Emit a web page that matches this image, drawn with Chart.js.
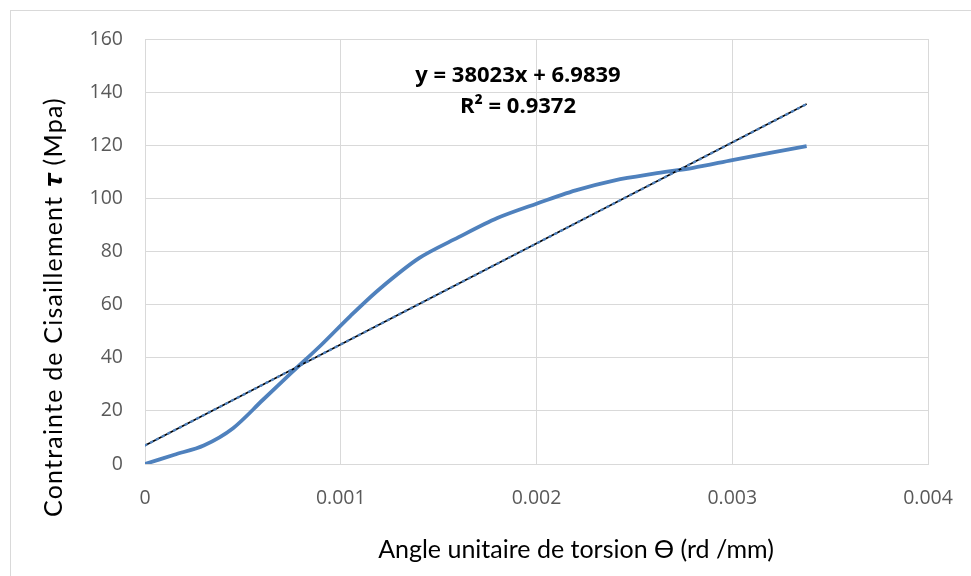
<!DOCTYPE html>
<html>
<head>
<meta charset="utf-8">
<script src="https://cdn.jsdelivr.net/npm/chart.js@4/dist/chart.umd.min.js"></script>
<style>
  html, body { margin: 0; padding: 0; background: #fff; overflow: hidden; }
  #wrap { width: 971px; height: 576px; }
</style>
</head>
<body>
<div id="wrap"><canvas id="torsion"></canvas></div>
<script>
// angle unitaire (rd/mm) vs contrainte de cisaillement (MPa)
const angles = [0, 0.00015, 0.0003, 0.00045, 0.0006, 0.00075, 0.0009, 0.00105, 0.0012, 0.0014,
  0.0016, 0.0018, 0.002, 0.0022, 0.0024, 0.0026, 0.0028, 0.003, 0.0032, 0.00338];
const contraintes = [0, 3.5, 7, 13.5, 24, 34.5, 44.8, 55.8, 66, 77.5,
  85.3, 92.6, 98, 103, 106.8, 109.3, 111.5, 114.4, 117.2, 119.7];

// linear trendline
const slope = 38023;
const intercept = 6.9839;
const r2 = 0.9372;
const trendX = [0, 0.00338];

const xTicks = [0, 0.001, 0.002, 0.003, 0.004];
const yTicks = [0, 20, 40, 60, 80, 100, 120, 140, 160];

const xTitle = 'Angle unitaire de torsion ϴ (rd /mm)';
const yTitle = 'Contrainte de Cisaillement 𝝉 (Mpa)';

const FONT = '"Open Sans", Lato, sans-serif';
const TITLE_FONT = 'Lato, "Open Sans", sans-serif';

const curve = angles.map((a, i) => ({ x: a, y: contraintes[i] }));
const trend = trendX.map((a) => ({ x: a, y: slope * a + intercept }));

const frame = {
  id: 'frame',
  beforeDraw(chart) {
    const ctx = chart.ctx;
    ctx.save();
    ctx.strokeStyle = '#d9d9d9';
    ctx.lineWidth = 1;
    ctx.strokeRect(10.5, 10.5, 1100, 1100);
    ctx.restore();
  },
  afterDraw(chart) {
    const ctx = chart.ctx;
    ctx.save();
    ctx.fillStyle = '#000';
    ctx.textAlign = 'center';
    ctx.textBaseline = 'middle';

    // equation of the trendline
    ctx.font = 'bold 22px ' + FONT;
    ctx.fillText('y = ' + slope + 'x + ' + intercept, 518, 76);
    ctx.fillText('R² = ' + r2, 518, 107);

    // axis titles
    ctx.font = '25px ' + TITLE_FONT;
    ctx.fillText(xTitle, 576, 550);
    ctx.letterSpacing = '1.2px';
    ctx.translate(54, 307);
    ctx.rotate(-Math.PI / 2);
    ctx.fillText(yTitle, 0, 0);
    ctx.restore();
  }
};

new Chart(document.getElementById('torsion'), {
  type: 'scatter',
  data: {
    datasets: [
      {
        data: trend,
        showLine: true,
        borderColor: '#000',
        borderWidth: 1.6,
        pointRadius: 0,
        order: 1
      },
      {
        data: trend,
        showLine: true,
        borderColor: '#4f81bd',
        borderWidth: 2.4,
        borderDash: [1.5, 5],
        borderCapStyle: 'round',
        pointRadius: 0,
        order: 0
      },
      {
        data: curve,
        showLine: true,
        borderColor: '#4f81bd',
        borderWidth: 3.8,
        tension: 0.3,
        pointRadius: 0,
        order: 2
      }
    ]
  },
  options: {
    responsive: true,
    maintainAspectRatio: false,
    animation: false,
    layout: { padding: { top: 39, right: 43, left: 0, bottom: 0 } },
    plugins: {
      legend: { display: false },
      tooltip: { enabled: false }
    },
    scales: {
      x: {
        type: 'linear',
        min: 0,
        max: 0.004,
        afterBuildTicks: (scale) => { scale.ticks = xTicks.map((v) => ({ value: v })); },
        afterFit: (scale) => {
          scale.height = 112;
          scale.paddingRight = 0;
          scale.paddingLeft = 0;
        },
        grid: { color: '#d9d9d9', drawTicks: false },
        border: { color: '#d9d9d9' },
        ticks: {
          padding: 23,
          color: '#595959',
          font: { family: FONT, size: 19.5 },
          callback: (v) => String(v)
        }
      },
      y: {
        min: 0,
        max: 160,
        afterBuildTicks: (scale) => { scale.ticks = yTicks.map((v) => ({ value: v })); },
        afterFit: (scale) => {
          scale.width = 145;
          scale.paddingTop = 0;
          scale.paddingBottom = 0;
        },
        grid: { color: '#d9d9d9', drawTicks: false },
        border: { color: '#d9d9d9' },
        ticks: {
          padding: 22,
          color: '#595959',
          font: { family: FONT, size: 19.5 }
        }
      }
    }
  },
  plugins: [frame]
});
</script>
</body>
</html>
